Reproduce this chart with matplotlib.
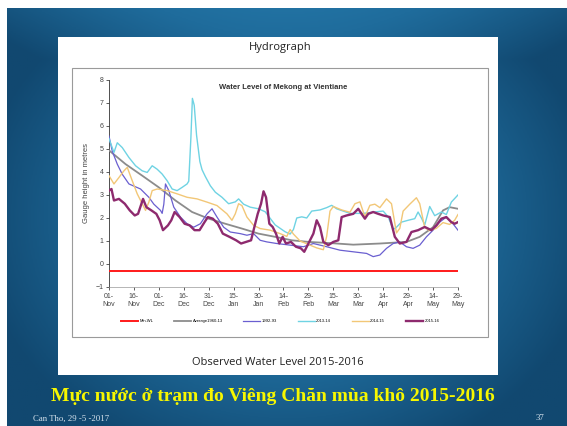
import numpy as np
import matplotlib
matplotlib.use('Agg')
import matplotlib.pyplot as plt
from matplotlib.colors import LinearSegmentedColormap
from matplotlib.patches import Rectangle

# days counted from 01-Nov
tick_days = [0, 15, 30, 45, 60, 75, 90, 105, 120, 135, 150, 165, 180, 195, 210]
tick_labels = ['01-\nNov', '16-\nNov', '01-\nDec', '16-\nDec', '31-\nDec', '15-\nJan', '30-\nJan',
               '14-\nFeb', '29-\nFeb', '15-\nMar', '30-\nMar', '14-\nApr', '29-\nApr', '14-\nMay', '29-\nMay']

min_wl_days = [0, 210]
min_wl = [-0.3, -0.3]

avg_days = [0, 10, 20, 30, 40, 50, 60, 70, 80, 90, 100, 110, 120, 135, 147, 163, 179, 187, 195, 201, 205, 210]
avg_lvl = [4.94, 4.34, 3.84, 3.33, 2.76, 2.26, 1.97, 1.75, 1.54, 1.32, 1.18, 1.03, 0.96, 0.9, 0.84,
           0.89, 0.96, 1.18, 1.6, 2.33, 2.47, 2.4]

y9293_days = [0, 2, 5, 8, 12, 19, 24, 27, 31, 32, 33, 34, 36, 39, 43, 47, 51, 55, 59, 62, 65, 69, 73,
              79, 83, 87, 91, 95, 101, 109, 117, 123, 131, 139, 147, 155, 159, 163, 167, 171, 175,
              179, 183, 187, 191, 195, 199, 203, 207, 210]
y9293_lvl = [5.56, 4.9, 4.34, 3.9, 3.48, 3.26, 2.9, 2.6, 2.33, 2.2, 2.6, 3.48, 3.19, 2.47, 2.04, 1.75,
             1.6, 1.75, 2.18, 2.4, 2.04, 1.6, 1.39, 1.32, 1.25, 1.32, 1.03, 0.96, 0.89, 0.82, 0.75,
             0.89, 0.75, 0.6, 0.53, 0.46, 0.32, 0.39, 0.68, 0.89, 0.96, 0.75, 0.68, 0.82, 1.18, 1.47,
             1.82, 2.04, 1.75, 1.47]

y1314_days = [0, 3, 5, 8, 12, 16, 20, 23, 26, 29, 32, 35, 38, 41, 44, 47, 48, 49.3, 50.2, 51.3, 52.7,
              54.7, 56, 58, 61, 64, 68, 72, 76, 78, 81, 85, 90, 94, 100, 106, 109, 111, 113, 116,
              119, 122, 127, 131, 134, 137, 145, 153, 161, 165, 168, 171, 173, 176, 180, 184, 186,
              188, 190, 193, 196, 200, 203, 206, 210]
y1314_lvl = [5.45, 4.85, 5.27, 5.06, 4.63, 4.27, 4.05, 3.98, 4.27, 4.12, 3.91, 3.62, 3.26, 3.19, 3.33,
             3.48, 3.6, 5.5, 7.2, 6.9, 5.6, 4.45, 4.1, 3.8, 3.4, 3.12, 2.9, 2.62, 2.7, 2.83, 2.6, 2.47,
             2.4, 2.27, 1.7, 1.4, 1.3, 1.5, 2.0, 2.05, 2.0, 2.3, 2.35, 2.45, 2.55, 2.4, 2.2, 2.2, 2.27,
             2.3, 2.05, 1.5, 1.6, 1.82, 1.9, 1.97, 2.26, 2.0, 1.7, 2.5, 2.1, 2.26, 2.15, 2.69, 3.0]

y1415_days = [0, 3, 6, 9, 11, 14, 17, 20, 22, 24, 26, 29, 35, 41, 47, 53, 59, 65, 71, 74, 76, 78, 80,
              83, 87, 91, 97, 103, 107, 109, 111, 115, 120, 125, 129, 131, 133, 135, 140, 145, 148,
              151, 154, 157, 160, 163, 167, 170, 173, 175, 177, 181, 185, 187, 190, 193, 197, 201,
              205, 208, 210]
y1415_lvl = [3.84, 3.48, 3.76, 4.05, 4.2, 3.62, 3.05, 2.62, 2.33, 2.69, 3.19, 3.26, 3.19, 3.05, 2.9,
             2.83, 2.69, 2.54, 2.18, 1.9, 2.18, 2.62, 2.54, 2.04, 1.68, 1.54, 1.47, 1.32, 1.2, 1.5,
             1.3, 1.0, 0.85, 0.7, 0.62, 1.2, 2.3, 2.5, 2.35, 2.25, 2.62, 2.7, 2.05, 2.55, 2.6, 2.45,
             2.83, 2.62, 1.35, 1.55, 2.3, 2.6, 2.88, 2.62, 1.58, 1.45, 1.55, 1.8, 1.72, 1.9, 2.15]

y1516_days = [0, 1.5, 3, 6, 9.5, 12.5, 15.5, 17.5, 20.5, 22.5, 25.5, 28.5, 30.5, 32.5, 35.5, 37.5,
              39.5, 42.5, 45.5, 48.5, 51.5, 54.5, 57.5, 59.5, 62.5, 65.5, 68.5, 72.5, 76.5, 79.5,
              82.5, 85.5, 87.5, 89.5, 91.5, 93, 94.5, 96.5, 98.5, 100.5, 102.5, 104.5, 106.5, 109.5,
              112.5, 115.5, 117.5, 120, 123, 125, 127, 129, 132, 135, 138, 140, 143, 147, 150, 152,
              154, 156, 159, 162, 165, 169, 172, 175, 179, 182, 186, 190, 194, 197, 200, 203, 206,
              208, 210]
y1516_lvl = [3.19, 3.26, 2.76, 2.83, 2.62, 2.33, 2.11, 2.18, 2.83, 2.47, 2.33, 2.18, 1.9, 1.47, 1.68,
             1.9, 2.26, 2.04, 1.75, 1.68, 1.47, 1.47, 1.82, 2.04, 1.97, 1.75, 1.32, 1.18, 1.03, 0.89,
             0.96, 1.03, 1.61, 2.18, 2.62, 3.16, 2.9, 1.75, 1.61, 1.32, 0.89, 1.18, 0.89, 0.96, 0.75,
             0.68, 0.53, 0.89, 1.32, 1.9, 1.6, 0.96, 0.82, 0.96, 1.03, 2.04, 2.11, 2.18, 2.4, 2.18,
             1.97, 2.18, 2.26, 2.18, 2.11, 2.04, 1.18, 0.89, 0.96, 1.39, 1.47, 1.61, 1.47, 1.68, 1.97,
             2.04, 1.82, 1.75, 1.82]

fig = plt.figure(figsize=(5.67, 4.26), dpi=100, facecolor='white')

# slide background (slide starts a few px in from the top-left corner)
bg = fig.add_axes([0, 0, 1, 1])
yy, xx = np.mgrid[0:1:200j, 0:1:260j]
r = np.sqrt(((xx - 0.5) / 0.8) ** 2 + ((yy - 0.5) / 0.9) ** 2)
r = r - 0.25 * np.clip(1 - yy / 0.12, 0, 1)
cmap = LinearSegmentedColormap.from_list('slide', ['#2a86b8', '#1f6c9c', '#114870'])
bg.set_xlim(0, 1)
bg.set_ylim(0, 1)
bg.imshow(r, cmap=cmap, extent=[0.0123, 1, 0, 0.979], aspect='auto', origin='upper', vmin=0.05, vmax=0.7)
bg.set_xlim(0, 1)
bg.set_ylim(0, 1)
bg.axis('off')
bg.add_patch(Rectangle((0.102, 0.120), 0.776, 0.793, facecolor='white', edgecolor='none'))
bg.add_patch(Rectangle((0.127, 0.209), 0.734, 0.631, facecolor='white', edgecolor='#9a9a9a', lw=0.8))
bg.text(0.494, 0.889, 'Hydrograph', ha='center', va='center', fontsize=8, family='Open Sans', color='#222222')
bg.text(0.490, 0.150, 'Observed Water Level 2015-2016', ha='center', va='center', fontsize=8,
        family='Open Sans', color='#222222')
bg.text(0.482, 0.070, 'Mực nước ở trạm đo Viêng Chăn mùa khô 2015-2016', ha='center', va='center',
        fontsize=14, fontweight='bold', family='Liberation Serif', color='#f7f700')
bg.text(0.058, 0.018, 'Can Tho, 29 -5 -2017', ha='left', va='center', fontsize=6.3,
        family='Liberation Serif', color='#d8e4ee')
bg.text(0.945, 0.018, '37', ha='left', va='center', fontsize=6.3, family='Liberation Serif', color='#d8e4ee')

ax = fig.add_axes([0.1922, 0.3263, 0.6155, 0.486])
ax.plot(min_wl_days, min_wl, color='#ff1a1a', lw=1.4, label='Min.WL', zorder=3)
ax.plot(avg_days, avg_lvl, color='#8c8c8c', lw=1.3, label='Average1960-13', zorder=3)
ax.plot(y9293_days, y9293_lvl, color='#6a5fd0', lw=0.9, label='1992-93', zorder=3)
ax.plot(y1314_days, y1314_lvl, color='#6fd3e3', lw=1.0, label='2013-14', zorder=3)
ax.plot(y1415_days, y1415_lvl, color='#f2c777', lw=1.0, label='2014-15', zorder=3)
ax.plot(y1516_days, y1516_lvl, color='#8e2a6e', lw=1.7, label='2015-16', zorder=4)

ax.set_xlim(0, 210)
ax.set_ylim(-1, 8)
ax.set_yticks(range(-1, 9))
ax.set_xticks(tick_days)
ax.set_xticklabels(tick_labels, family='Liberation Sans')
ax.tick_params(axis='both', labelsize=5, colors='#444444', length=2, width=0.6, pad=2)
for lab in ax.get_yticklabels():
    lab.set_family('Liberation Sans')
for s in ['top', 'right']:
    ax.spines[s].set_visible(False)
ax.spines['left'].set_color('#333333')
ax.spines['bottom'].set_color('#999999')
ax.spines['left'].set_linewidth(0.6)
ax.spines['bottom'].set_linewidth(0.5)
ax.set_ylabel('Gauge height in metres', fontsize=5.5, family='Liberation Sans', color='#444444', labelpad=4)
ax.set_title('Water Level of Mekong at Vientiane', fontsize=5.5, fontweight='bold',
             family='Liberation Sans', color='#333333', y=0.955, pad=0)
ax.patch.set_alpha(0)

fig.legend(loc='center', bbox_to_anchor=(0.494, 0.246), ncol=6, frameon=False,
           handlelength=4, columnspacing=5, handletextpad=0.4, prop={'family': 'Liberation Sans', 'size': 3})

plt.savefig('out.png', dpi=100)
plt.close()
